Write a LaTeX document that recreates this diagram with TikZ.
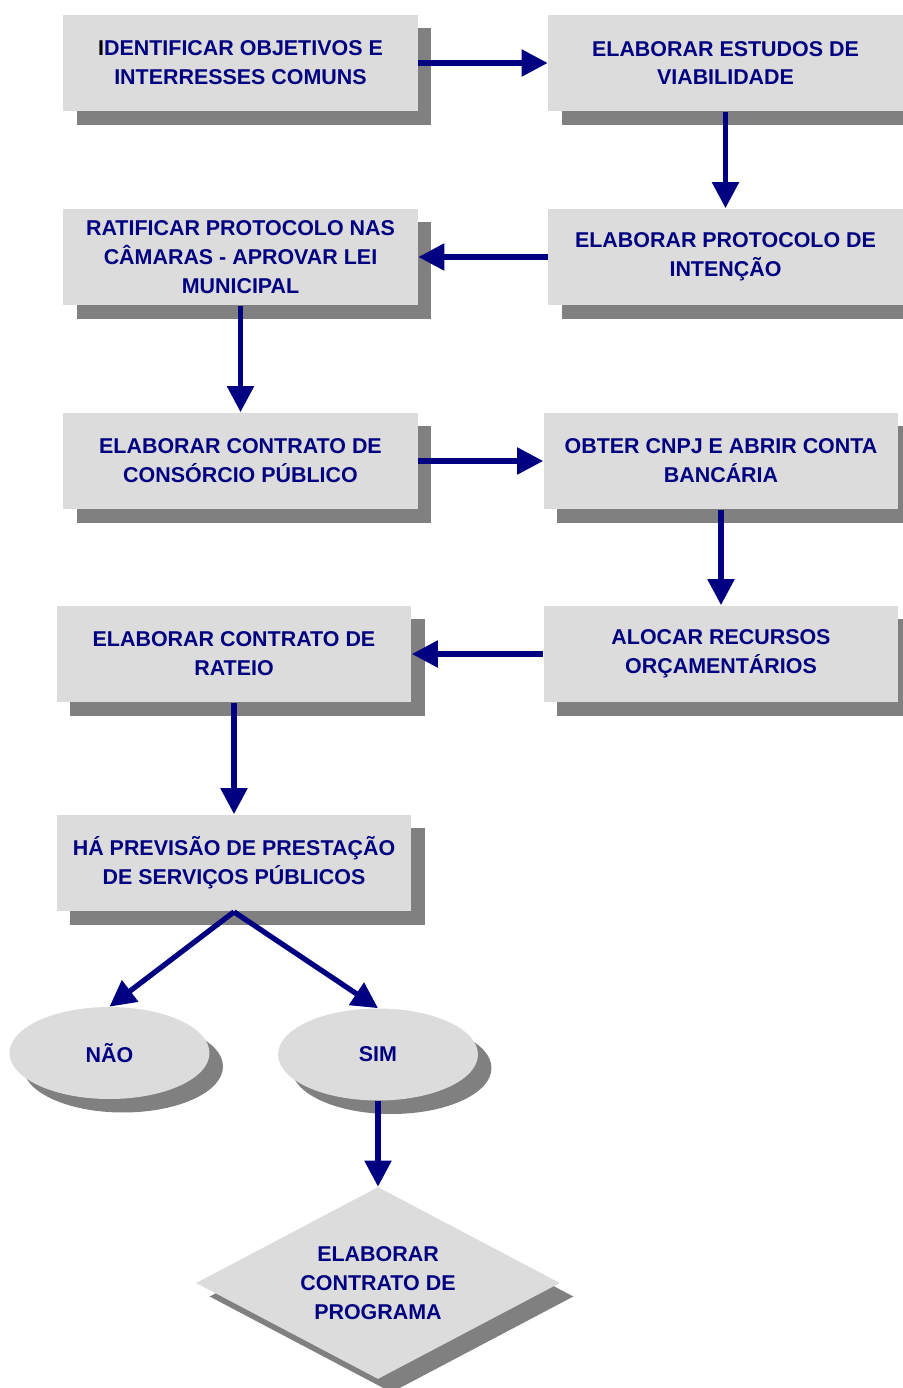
\documentclass[tikz,border=0pt]{standalone}
\usepackage{fontspec}
\setmainfont{Liberation Sans}
\usetikzlibrary{shapes.geometric,shadows,arrows.meta}
\definecolor{boxgray}{HTML}{DCDCDC}
\definecolor{shadegray}{HTML}{808080}
\definecolor{darknavy}{HTML}{000080}
\tikzset{
  shade/.style={fill=boxgray, drop shadow={shadow xshift=0.27cm, shadow yshift=-0.27cm, fill=shadegray, opacity=1}},
  stepbox/.style={shade, rectangle, minimum width=7.1cm, minimum height=1.94cm, inner sep=0pt, align=center},
  answer/.style={shade, ellipse, minimum width=4cm, minimum height=1.84cm, inner sep=0pt},
  decide/.style={shade, diamond, shape aspect=1.9, minimum width=7.28cm, minimum height=3.84cm, inner sep=0pt, align=center},
  flow/.style={darknavy, line width=3pt, -{Triangle[length=5.2mm, width=5.2mm]}}
}
\begin{document}
\begin{tikzpicture}[x=0.02cm, y=-0.02cm, text=darknavy, font=\bfseries\fontsize{12.2}{16.4}\selectfont]
    \useasboundingbox (0,0) rectangle (902,1388);
    \node[stepbox] (b1) at (240.5,63) {{\color{black}I}DENTIFICAR OBJETIVOS E\\INTERRESSES COMUNS};
    \node[stepbox] (b2) at (725.5,63) {ELABORAR ESTUDOS DE\\VIABILIDADE};
    \node[stepbox] (b3) at (725.5,257) {ELABORAR PROTOCOLO DE\\INTENÇÃO};
    \node[stepbox] (b4) at (240.5,257) {RATIFICAR PROTOCOLO NAS\\CÂMARAS - APROVAR LEI\\MUNICIPAL};
    \node[stepbox] (b5) at (240.5,461) {ELABORAR CONTRATO DE\\CONSÓRCIO PÚBLICO};
    \node[stepbox] (b6) at (721,461) {OBTER CNPJ E ABRIR CONTA\\BANCÁRIA};
    \node[stepbox] (b7) at (721,654) {ALOCAR RECURSOS\\ORÇAMENTÁRIOS};
    \node[stepbox] (b8) at (234,654) {ELABORAR CONTRATO DE\\RATEIO};
    \node[stepbox] (b9) at (234,863) {HÁ PREVISÃO DE PRESTAÇÃO\\DE SERVIÇOS PÚBLICOS};
    \node[answer] (nao) at (109.5,1053) {NÃO};
    \node[answer] (sim) at (378,1054.5) {SIM};
    \node[decide] (prog) at (378,1283) {ELABORAR\\CONTRATO DE\\PROGRAMA};

    \foreach \a/\b in {b1.east/b2.west, b2.south/b3.north, b3.west/b4.east, b4.south/b5.north,
        b5.east/b6.west, b6.south/b7.north, b7.west/b8.east, b8.south/b9.north,
        b9.south/nao.north, b9.south/sim.north, sim.south/prog.north}
        \draw[flow] (\a) -- (\b);
\end{tikzpicture}
\end{document}
